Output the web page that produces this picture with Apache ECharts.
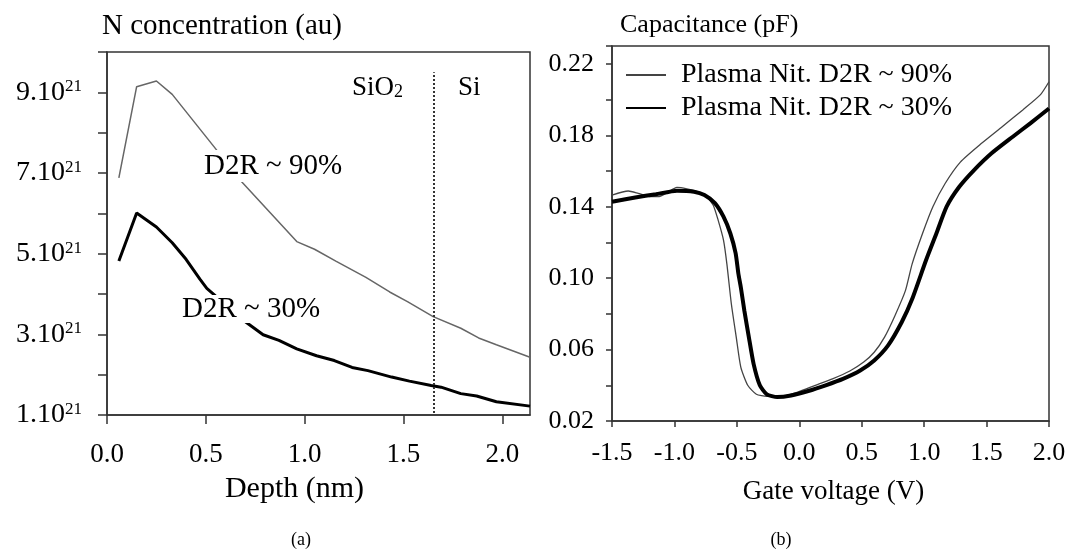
<!DOCTYPE html>
<html>
<head>
<meta charset="utf-8">
<script src="https://cdn.jsdelivr.net/npm/echarts@6/dist/echarts.min.js"></script>
<style>
  html, body { margin: 0; padding: 0; background: #fff; }
  #chart { width: 1075px; height: 552px; }
</style>
</head>
<body>
<div id="chart"></div>
<script>
const serif = "'Liberation Serif', 'Times New Roman', serif";

// (a) N profile, concentration in units of 1e21
const depth90 = [0.06, 0.15, 0.25, 0.33, 0.54, 0.68, 0.96, 1.05, 1.16, 1.31, 1.43, 1.52, 1.65, 1.79, 1.88, 1.97, 2.14];
const conc90 = [6.88, 9.14, 9.28, 8.95, 7.66, 6.79, 5.30, 5.11, 4.81, 4.41, 4.05, 3.81, 3.44, 3.15, 2.91, 2.74, 2.43];
const depth30 = [0.06, 0.15, 0.25, 0.33, 0.40, 0.47, 0.505, 0.70, 0.79, 0.87, 0.96, 1.06, 1.15, 1.24, 1.32, 1.44, 1.53, 1.64, 1.69, 1.79, 1.87, 1.97, 2.14];
const conc30 = [4.82, 6.01, 5.66, 5.27, 4.86, 4.37, 4.14, 3.31, 2.99, 2.85, 2.64, 2.47, 2.35, 2.18, 2.10, 1.94, 1.84, 1.73, 1.69, 1.53, 1.47, 1.33, 1.22];
const interfaceDepth = 1.655;
const interfaceSpan = [1.05, 9.5];
const concTicks = [1, 3, 5, 7, 9];

// (b) C-V curves
const volt90 = [-1.5, -1.37, -1.29, -1.19, -1.13, -1.06, -0.98, -0.90, -0.815, -0.745, -0.69, -0.65, -0.607, -0.58, -0.544, -0.505, -0.468, -0.413, -0.344, -0.26, -0.15, -0.011, 0.128, 0.266, 0.405, 0.516, 0.6, 0.683, 0.766, 0.85, 0.904, 0.987, 1.07, 1.168, 1.29, 1.46, 1.625, 1.79, 1.93, 2.0];
const cap90 = [0.1465, 0.1488, 0.1475, 0.1456, 0.1456, 0.1478, 0.1508, 0.150, 0.1484, 0.1456, 0.141, 0.1325, 0.1213, 0.108, 0.0855, 0.067, 0.050, 0.040, 0.035, 0.0338, 0.0338, 0.0362, 0.040, 0.0436, 0.048, 0.053, 0.0585, 0.067, 0.079, 0.093, 0.108, 0.125, 0.14, 0.153, 0.165, 0.1755, 0.1848, 0.1942, 0.2026, 0.21];
const volt30 = [-1.5, -1.314, -1.148, -0.98, -0.843, -0.76, -0.676, -0.607, -0.552, -0.51, -0.488, -0.468, -0.44, -0.404, -0.366, -0.316, -0.26, -0.177, -0.066, 0.072, 0.211, 0.35, 0.488, 0.6, 0.71, 0.82, 0.904, 1.015, 1.098, 1.18, 1.28, 1.4, 1.54, 1.71, 1.85, 2.0];
const cap30 = [0.1428, 0.1452, 0.147, 0.149, 0.1484, 0.1465, 0.142, 0.1344, 0.125, 0.114, 0.1026, 0.0948, 0.0818, 0.067, 0.052, 0.040, 0.0349, 0.0334, 0.0343, 0.0368, 0.040, 0.0436, 0.0483, 0.0539, 0.0622, 0.0753, 0.0883, 0.11, 0.125, 0.14, 0.151, 0.1605, 0.1699, 0.1792, 0.1867, 0.195];
const capTicks = [0.02, 0.06, 0.10, 0.14, 0.18, 0.22];

const pairs = (xs, ys) => xs.map((x, i) => [x, ys[i]]);

const myChart = echarts.init(document.getElementById('chart'));

const axisLine = { onZero: false, lineStyle: { color: '#333', width: 1.5 } };
const tickA = { inside: false, length: 9, lineStyle: { color: '#333', width: 1.5 } };
const tickB = { inside: false, length: 6, lineStyle: { color: '#333', width: 1.5 } };

let option = {
  animation: false,
  backgroundColor: '#fff',
  textStyle: { fontFamily: serif, color: '#000' },
  grid: [
    { left: 107, right: 545, top: 52, bottom: 137, show: true, borderColor: '#333', borderWidth: 1.5 },
    { left: 612, right: 26, top: 46, bottom: 131, show: true, borderColor: '#333', borderWidth: 1.5 }
  ],
  legend: {
    data: ['Plasma Nit. D2R ~ 90%', 'Plasma Nit. D2R ~ 30%'],
    orient: 'vertical',
    left: 625,
    top: 61,
    padding: 0,
    itemWidth: 40,
    itemHeight: 14,
    itemGap: 5,
    itemStyle: { opacity: 0 },
    textStyle: { fontFamily: serif, fontSize: 28, color: '#000', lineHeight: 28, padding: [0, 0, 0, 10] }
  },
  xAxis: [
    {
      gridIndex: 0, type: 'value', min: 0, max: 2.14, interval: 0.5,
      name: 'Depth (nm)', nameLocation: 'middle', nameGap: 59,
      nameTextStyle: { fontFamily: serif, fontSize: 30, color: '#000', padding: [0, 48, 0, 0] },
      axisLine: axisLine, axisTick: tickA, splitLine: { show: false },
      axisLabel: {
        margin: 26, fontFamily: serif, fontSize: 27, color: '#000', showMaxLabel: false,
        formatter: v => v.toFixed(1)
      }
    },
    {
      gridIndex: 1, type: 'value', min: -1.5, max: 2, interval: 0.5,
      name: 'Gate voltage (V)', nameLocation: 'middle', nameGap: 57,
      nameTextStyle: { fontFamily: serif, fontSize: 27, color: '#000', padding: [0, 0, 0, 6] },
      axisLine: axisLine, axisTick: tickB, splitLine: { show: false },
      axisLabel: {
        margin: 19, fontFamily: serif, fontSize: 26, color: '#000',
        formatter: v => v.toFixed(1)
      }
    }
  ],
  yAxis: [
    {
      gridIndex: 0, type: 'value', min: 1, max: 10, interval: 1,
      axisLine: axisLine, axisTick: tickA, splitLine: { show: false },
      axisLabel: {
        margin: 25,
        formatter: v => concTicks.includes(v) ? '{m|' + v + '.10}{e|21}' : '',
        rich: {
          m: { fontFamily: serif, fontSize: 28, color: '#000', lineHeight: 28 },
          e: { fontFamily: serif, fontSize: 17, color: '#000', lineHeight: 17, verticalAlign: 'top' }
        }
      }
    },
    {
      gridIndex: 1, type: 'value', min: 0.02, max: 0.23, interval: 0.02,
      axisLine: axisLine, axisTick: tickB, splitLine: { show: false },
      axisLabel: {
        margin: 18, fontFamily: serif, fontSize: 26, color: '#000',
        formatter: v => capTicks.some(t => Math.abs(t - v) < 1e-6) ? v.toFixed(2) : ''
      }
    }
  ],
  series: [
    {
      name: 'D2R ~ 90%', type: 'line', xAxisIndex: 0, yAxisIndex: 0,
      symbol: 'none', lineStyle: { color: '#666', width: 1.5 },
      data: pairs(depth90, conc90)
    },
    {
      name: 'D2R ~ 30%', type: 'line', xAxisIndex: 0, yAxisIndex: 0,
      symbol: 'none', lineStyle: { color: '#000', width: 3 },
      data: pairs(depth30, conc30),
      markLine: {
        silent: true,
        symbol: ['none', 'none'],
        label: { show: false },
        lineStyle: { type: 'dotted', color: '#333', width: 2 },
        data: [[{ coord: [interfaceDepth, interfaceSpan[0]] }, { coord: [interfaceDepth, interfaceSpan[1]] }]]
      }
    },
    {
      name: 'Plasma Nit. D2R ~ 90%', type: 'line', xAxisIndex: 1, yAxisIndex: 1,
      symbol: 'none', smooth: 0.2, lineStyle: { color: '#444', width: 1.3 },
      itemStyle: { color: '#444' },
      data: pairs(volt90, cap90)
    },
    {
      name: 'Plasma Nit. D2R ~ 30%', type: 'line', xAxisIndex: 1, yAxisIndex: 1,
      symbol: 'none', smooth: 0.2, lineStyle: { color: '#000', width: 4 },
      itemStyle: { color: '#000' },
      data: pairs(volt30, cap30)
    }
  ],
  graphic: [
    { type: 'text', x: 102, y: 26, z: 50, style: { text: 'N concentration (au)', font: '29px ' + serif, fill: '#000', textAlign: 'left', textVerticalAlign: 'middle' } },
    { type: 'text', x: 620, y: 25, z: 50, style: { text: 'Capacitance (pF)', font: '26px ' + serif, fill: '#000', textAlign: 'left', textVerticalAlign: 'middle' } },
    { type: 'text', x: 273, y: 166, z: 50, style: { text: 'D2R ~ 90%', font: '29px ' + serif, fill: '#000', textAlign: 'center', textVerticalAlign: 'middle', backgroundColor: '#fff', lineHeight: 32, padding: [0, 4] } },
    { type: 'text', x: 251, y: 309, z: 50, style: { text: 'D2R ~ 30%', font: '29px ' + serif, fill: '#000', textAlign: 'center', textVerticalAlign: 'middle', backgroundColor: '#fff', lineHeight: 28, padding: [0, 4] } },
    {
      type: 'text', x: 352, y: 88, z: 50,
      style: {
        text: '{m|SiO}{s|2}', textAlign: 'left', textVerticalAlign: 'middle',
        rich: {
          m: { font: '27px ' + serif, fill: '#000', lineHeight: 27 },
          s: { font: '18px ' + serif, fill: '#000', lineHeight: 18, verticalAlign: 'bottom' }
        }
      }
    },
    { type: 'text', x: 458, y: 88, z: 50, style: { text: 'Si', font: '27px ' + serif, fill: '#000', textAlign: 'left', textVerticalAlign: 'middle' } },
    { type: 'text', x: 301, y: 540, z: 50, style: { text: '(a)', font: '18px ' + serif, fill: '#000', textAlign: 'center', textVerticalAlign: 'middle' } },
    { type: 'text', x: 781, y: 540, z: 50, style: { text: '(b)', font: '18px ' + serif, fill: '#000', textAlign: 'center', textVerticalAlign: 'middle' } }
  ]
};

myChart.setOption(option);
</script>
</body>
</html>
